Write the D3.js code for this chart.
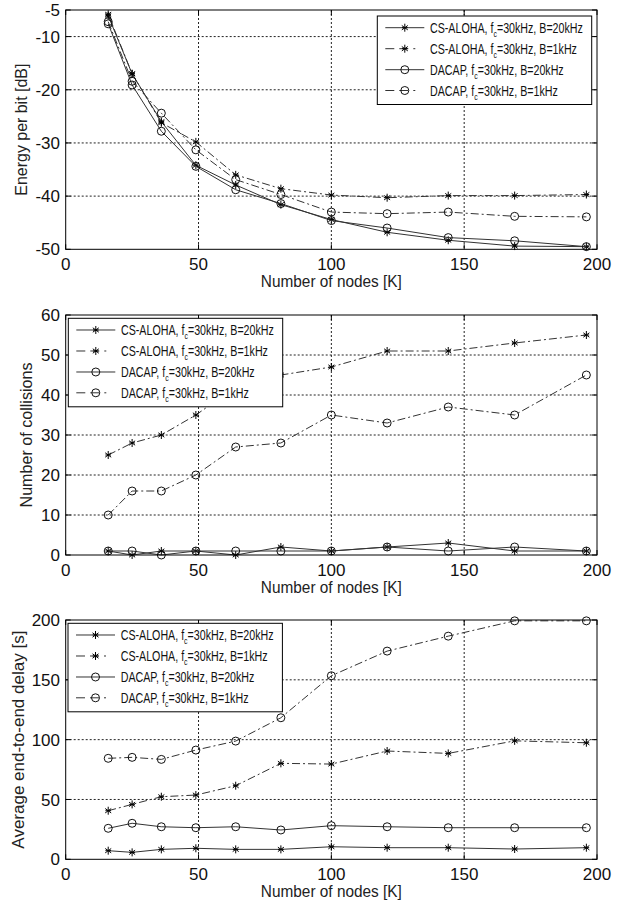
<!DOCTYPE html>
<html lang="en">
<head>
    <meta charset="UTF-8">
    <title>CS-ALOHA vs DACAP</title>
    <script src="https://d3js.org/d3.v7.min.js"></script>
    <style>
        body { margin: 0; background: #fff; }
        text { font-family: "Liberation Sans", Arial, sans-serif; fill: #111; }
    </style>
</head>
<body>
 <div id="mainbody"></div>
 <script>

    // number of nodes K (x values, shared by every series)
    const nodes = [16, 25, 36, 49, 64, 81, 100, 121, 144, 169, 196];
    const xTicks = [0, 50, 100, 150, 200];

    // legend entries
    const seriesNames = [
        ["CS-ALOHA, f", "c", "=30kHz, B=20kHz"],
        ["CS-ALOHA, f", "c", "=30kHz, B=1kHz"],
        ["DACAP, f", "c", "=30kHz, B=20kHz"],
        ["DACAP, f", "c", "=30kHz, B=1kHz"]
    ];

    // energy per bit [dB]
    const energyAloha20 = [-6.1, -17.0, -26.0, -34.2, -37.9, -41.6, -44.4, -46.8, -48.3, -49.4, -49.5];
    const energyAloha1  = [-5.8, -17.0, -26.2, -29.8, -36.0, -38.6, -39.8, -40.3, -39.9, -39.9, -39.7];
    const energyDacap20 = [-7.6, -19.1, -27.8, -34.4, -38.8, -41.4, -44.6, -46.0, -47.8, -48.4, -49.5];
    const energyDacap1  = [-7.2, -18.4, -24.4, -31.3, -36.9, -39.7, -43.0, -43.3, -43.0, -43.8, -43.9];
    const energyTicks = [-5, -10, -20, -30, -40, -50];

    // number of collisions
    const collAloha20 = [1, 0, 1, 1, 0, 2, 1, 2, 3, 1, 1];
    const collAloha1  = [25, 28, 30, 35, 42, 45, 47, 51, 51, 53, 55];
    const collDacap20 = [1, 1, 0, 1, 1, 1, 1, 2, 1, 2, 1];
    const collDacap1  = [10, 16, 16, 20, 27, 28, 35, 33, 37, 35, 45];
    const collTicks = [0, 10, 20, 30, 40, 50, 60];

    // average end-to-end delay [s]
    const delayAloha20 = [7.2, 5.8, 8.3, 9.2, 8.3, 8.3, 10.5, 9.7, 9.7, 8.6, 9.7];
    const delayAloha1  = [40.6, 45.9, 52.3, 53.7, 61.5, 80.2, 79.6, 90.5, 88.5, 99.0, 97.4];
    const delayDacap20 = [25.9, 30.1, 27.2, 26.4, 27.2, 24.5, 28.1, 27.2, 26.4, 26.4, 26.4];
    const delayDacap1  = [84.4, 85.2, 83.5, 91.3, 98.8, 118.3, 153.4, 174.0, 186.5, 199.3, 199.3];
    const delayTicks = [0, 50, 100, 150, 200];

    // line style / marker per series (same order as seriesNames)
    const styles = [
        {dash: null, marker: "star"},
        {dash: "8,3,2,3", marker: "star"},
        {dash: null, marker: "circle"},
        {dash: "8,3,2,3", marker: "circle"}
    ];

    const panels = [
        {ylabel: "Energy per bit [dB]", ylen: 132, ylx: 27, domain: [-50, -5], ticks: energyTicks,
         series: [energyAloha20, energyAloha1, energyDacap20, energyDacap1],
         top: 10, bottom: 249.3, legend: {x: 377.3, y: 16}},
        {ylabel: "Number of collisions", ylen: 145, ylx: 31.5, domain: [0, 60], ticks: collTicks,
         series: [collAloha20, collAloha1, collDacap20, collDacap1],
         top: 315, bottom: 555, legend: {x: 68.3, y: 318.3}},
        {ylabel: "Average end-to-end delay [s]", ylen: 218, ylx: 24, domain: [0, 200], ticks: delayTicks,
         series: [delayAloha20, delayAloha1, delayDacap20, delayDacap1],
         top: 620, bottom: 859.3, legend: {x: 68, y: 623.3}}
    ];

    const left = 65.7, right = 597;
    const tickLen = 5;

    const svg = d3.select("#mainbody").append("svg")
        .attr("width", 624)
        .attr("height", 906);

    const x = d3.scaleLinear().domain([0, 200]).range([left, right]);

    function drawMarker(g, type, cx, cy) {
        if (type === "circle") {
            g.append("circle")
                .attr("cx", cx).attr("cy", cy).attr("r", 4)
                .attr("fill", "none").attr("stroke", "#111").attr("stroke-width", 1);
        } else {
            const p = d3.path();
            p.moveTo(cx, cy - 4); p.lineTo(cx, cy + 4);
            p.moveTo(cx - 3, cy - 2.2); p.lineTo(cx + 3, cy + 2.2);
            p.moveTo(cx - 3, cy + 2.2); p.lineTo(cx + 3, cy - 2.2);
            p.moveTo(cx - 2.8, cy); p.lineTo(cx + 2.8, cy);
            g.append("path").attr("d", p.toString())
                .attr("stroke", "#000").attr("stroke-width", 1).attr("fill", "none");
        }
    }

    panels.forEach(panel => {
        const y = d3.scaleLinear().domain(panel.domain).range([panel.bottom, panel.top]);
        const g = svg.append("g");

        // dotted grid
        g.selectAll(".gx").data(xTicks.slice(1, -1)).enter().append("line")
            .attr("x1", d => x(d)).attr("x2", d => x(d))
            .attr("y1", panel.top).attr("y2", panel.bottom)
            .attr("stroke", "#222").attr("stroke-dasharray", "2,2");
        const inner = panel.ticks.filter(t => t !== panel.domain[0] && t !== panel.domain[1]);
        g.selectAll(".gy").data(inner).enter().append("line")
            .attr("x1", left).attr("x2", right)
            .attr("y1", d => y(d)).attr("y2", d => y(d))
            .attr("stroke", "#222").attr("stroke-dasharray", "2,2");

        // inward tick marks on all four sides
        xTicks.forEach(t => {
            g.append("line").attr("x1", x(t)).attr("x2", x(t))
                .attr("y1", panel.bottom).attr("y2", panel.bottom - tickLen).attr("stroke", "#000");
            g.append("line").attr("x1", x(t)).attr("x2", x(t))
                .attr("y1", panel.top).attr("y2", panel.top + tickLen).attr("stroke", "#000");
        });
        panel.ticks.forEach(t => {
            g.append("line").attr("x1", left).attr("x2", left + tickLen)
                .attr("y1", y(t)).attr("y2", y(t)).attr("stroke", "#000");
            g.append("line").attr("x1", right).attr("x2", right - tickLen)
                .attr("y1", y(t)).attr("y2", y(t)).attr("stroke", "#000");
        });

        // tick labels
        g.selectAll(".xl").data(xTicks).enter().append("text")
            .attr("x", d => x(d)).attr("y", panel.bottom + 20.5)
            .attr("text-anchor", "middle").attr("font-size", 17)
            .text(d => d);
        g.selectAll(".yl").data(panel.ticks).enter().append("text")
            .attr("x", 60).attr("y", d => y(d)).attr("dy", "0.36em")
            .attr("text-anchor", "end").attr("font-size", 17)
            .text(d => d);

        // axis titles
        g.append("text")
            .attr("x", (left + right) / 2).attr("y", panel.bottom + 37.5)
            .attr("text-anchor", "middle").attr("font-size", 16)
            .attr("textLength", 141).attr("lengthAdjust", "spacingAndGlyphs")
            .style("fill", "#222")
            .text("Number of nodes [K]");
        g.append("text")
            .attr("transform", `translate(${panel.ylx},${(panel.top + panel.bottom) / 2}) rotate(-90)`)
            .attr("text-anchor", "middle").attr("font-size", 16)
            .attr("textLength", panel.ylen).attr("lengthAdjust", "spacingAndGlyphs")
            .style("fill", "#222")
            .text(panel.ylabel);

        // series lines and markers
        const line = d3.line().x((d, i) => x(nodes[i])).y(d => y(d));
        panel.series.forEach((vals, si) => {
            g.append("path").datum(vals)
                .attr("d", line)
                .attr("fill", "none").attr("stroke", "#333").attr("stroke-width", 1)
                .attr("stroke-dasharray", styles[si].dash);
            vals.forEach((v, i) => drawMarker(g, styles[si].marker, x(nodes[i]), y(v)));
        });

        // frame
        g.append("rect")
            .attr("x", left).attr("y", panel.top)
            .attr("width", right - left).attr("height", panel.bottom - panel.top)
            .attr("fill", "none").attr("stroke", "#000").attr("stroke-width", 1);

        // legend
        const lg = g.append("g").attr("transform", `translate(${panel.legend.x},${panel.legend.y})`);
        lg.append("rect").attr("width", 214.4).attr("height", 88.5)
            .attr("fill", "#fff").attr("stroke", "#000").attr("stroke-width", 1);
        const rowY = [11.7, 32.7, 53.7, 74.5];
        let sx = null;
        seriesNames.forEach((name, si) => {
            const ry = rowY[si];
            lg.append("line").attr("x1", 8).attr("x2", 47).attr("y1", ry).attr("y2", ry)
                .attr("stroke", "#333").attr("stroke-width", 1)
                .attr("stroke-dasharray", styles[si].dash ? "9,5,9,5,2,40" : null);
            drawMarker(lg, styles[si].marker, 27.5, ry);
            const t = lg.append("text").attr("font-size", 14.5);
            t.append("tspan").text(name[0]);
            t.append("tspan").attr("font-size", 9.5).attr("dy", 4.2).text(name[1]);
            t.append("tspan").attr("dy", -4.2).text(name[2]);
            if (sx === null) sx = 153 / t.node().getComputedTextLength();
            t.attr("transform", `translate(52.7,${ry + 5.1}) scale(${sx},1)`);
        });
    });

 </script>
</body>
</html>
